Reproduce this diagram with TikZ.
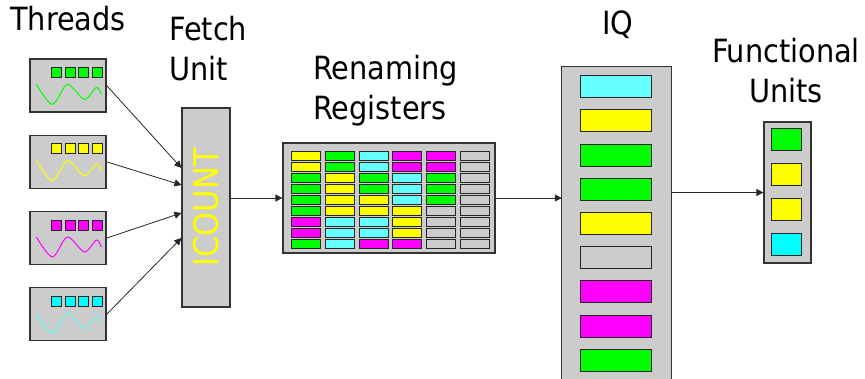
\documentclass[tikz,border=0pt]{standalone}
\usepackage{fontspec}
\setmainfont{DejaVu Sans Condensed}
\usepackage{tikz}
\usetikzlibrary{positioning,arrows.meta,calc}
\usepackage{xcolor}

\definecolor{qgreen}{RGB}{0,255,0}
\definecolor{qyellow}{RGB}{255,255,0}
\definecolor{qmagenta}{RGB}{255,0,255}
\definecolor{qcyan}{RGB}{0,255,255}
\definecolor{qlcyan}{RGB}{102,255,255}
\definecolor{qgray}{RGB}{204,204,204}

\begin{document}
\begin{tikzpicture}[x=1pt, y=-1pt,
  thread/.style={draw=black!80, line width=1.2pt, fill=qgray,
                 minimum width=76pt, minimum height=53pt, inner sep=0pt},
  unitbox/.style={draw=black!80, line width=1.2pt, fill=qgray, inner sep=0pt},
  cell/.style={draw=black!85, line width=0.8pt},
  slot/.style={draw=black!85, line width=1pt},
  heading/.style={font=\fontsize{32}{40}\selectfont, inner sep=0pt},
  flow/.style={-{Triangle[length=7pt,width=7pt]}, line width=0.8pt, black!85},
  ]
  \useasboundingbox (0,0) rectangle (865,379);

  % threads
  \foreach \c/\w [count=\i from 0] in {qgreen/qgreen, qyellow/qyellow,
      qmagenta/qmagenta, qcyan/qlcyan}{
    \node[thread] (t\i) at (68, {85.5+76.3*\i}) {};
    \foreach \k in {0,...,3}
      \draw[cell, fill=\c] ($(t\i.north west)+({22+13.7*\k},9)$) rectangle +(10,10);
    \begin{scope}[shift={(t\i.north west)}]
      \draw[\w, line width=1pt] plot[smooth] coordinates
        {(7,26) (23,46) (38,26) (55,41) (67,29) (72,36)};
    \end{scope}
  }

  % fetch unit
  \node[unitbox, minimum width=48pt, minimum height=199pt] (fetch) at (206,207.5) {};
  \node[rotate=90, text=qyellow, inner sep=0pt, font=\fontsize{34}{34}\selectfont]
    (icount) at (fetch.center) {ICOUNT};
  \foreach \i/\dy in {0/-39.5, 1/-22.5, 2/5.5, 3/30.5}
    \draw[flow] (t\i.east) -- ($(fetch.west)+(0,\dy)$);

  % renaming registers
  \node[unitbox, minimum width=212pt, minimum height=110pt] (regs) at (389,198) {};
  \foreach \col [count=\i from 0] in {
      {qyellow,qyellow,qgreen,qgreen,qgreen,qgreen,qmagenta,qmagenta,qgreen},
      {qgreen,qgreen,qyellow,qyellow,qyellow,qyellow,qlcyan,qlcyan,qlcyan},
      {qlcyan,qlcyan,qgreen,qgreen,qyellow,qyellow,qlcyan,qlcyan,qmagenta},
      {qmagenta,qmagenta,qlcyan,qlcyan,qlcyan,qyellow,qyellow,qyellow,qmagenta},
      {qmagenta,qmagenta,qgreen,qgreen,qgreen,qgray,qgray,qgray,qgray},
      {qgray,qgray,qgray,qgray,qgray,qgray,qgray,qgray,qgray}}{
    \foreach \c [count=\j from 0] in \col
      \draw[cell, fill=\c] ($(regs.north west)+({9+33.8*\i},{9+11*\j})$) rectangle +(29,9);
  }
  \draw[flow] (fetch.east |- regs.west) -- (regs.west);

  % instruction queue
  \node[fill=qgray, inner sep=0pt, minimum width=109pt, minimum height=312pt] (iq) at (616.5,223) {};
  \draw[draw=black!80, line width=1.2pt] (iq.south west) |- (iq.north east) -- (iq.south east);
  \foreach \c [count=\j from 0] in {qlcyan,qyellow,qgreen,qgreen,qyellow,qgray,qmagenta,qmagenta,qgreen}
    \draw[slot, fill=\c] ($(iq.north west)+(19,{9+34.2*\j})$) rectangle +(71,22);
  \draw[flow] (regs.east) -- (regs.east -| iq.west);

  % functional units
  \node[unitbox, minimum width=47pt, minimum height=141pt] (fu) at (787.5,192.5) {};
  \foreach \c [count=\j from 0] in {qgreen,qyellow,qyellow,qcyan}
    \draw[slot, fill=\c] ($(fu.north west)+(8,{7+35*\j})$) rectangle +(30,22);
  \draw[flow] (iq.east |- fu.west) -- (fu.west);

  % labels (base is the last line)
  \node[heading, anchor=base west] (threadlbl) at (10,31) {Threads};
  \node[heading, anchor=base west, align=left] (fetchlbl) at (169,81) {Fetch\\Unit};
  \node[heading, anchor=base west, align=left] (regslbl) at (313,120) {Renaming\\Registers};
  \node[heading, anchor=base west] (iqlbl) at (602,35) {IQ};
  \node[heading, anchor=base, align=center] (fulbl) at (786,103) {Functional\\Units};
\end{tikzpicture}
\end{document}
